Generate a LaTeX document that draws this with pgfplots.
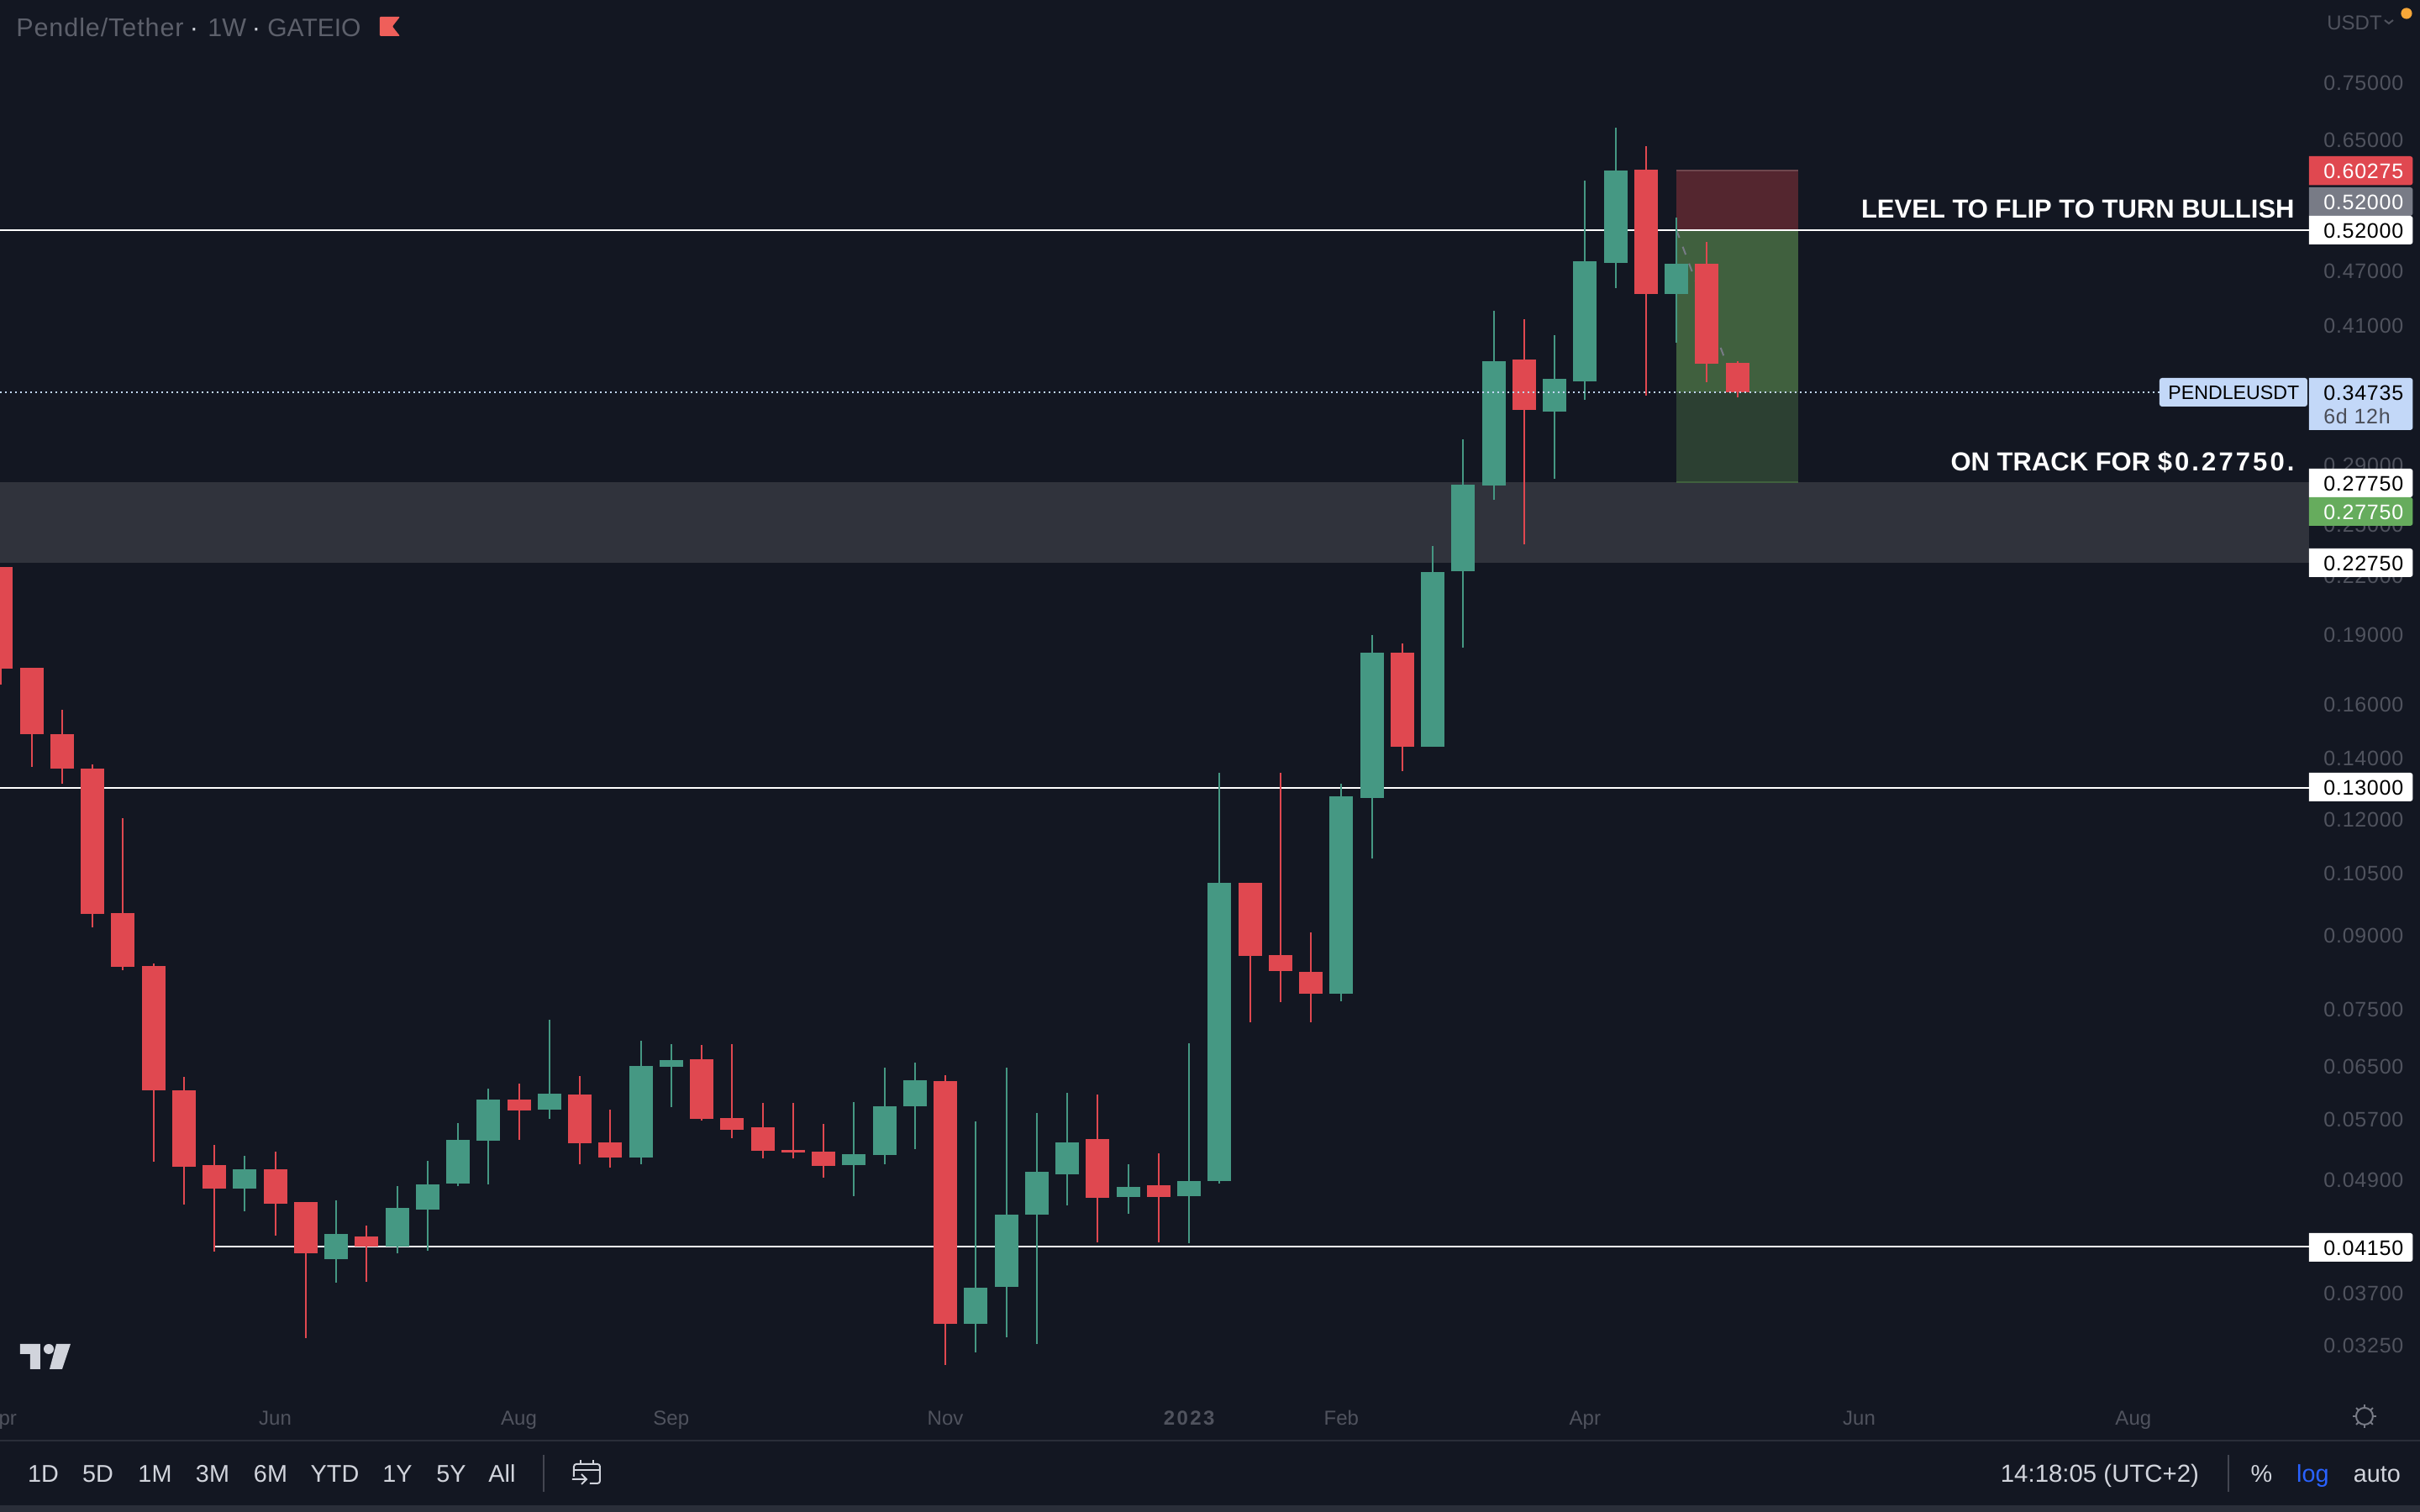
\documentclass[border=0pt]{standalone}
\usepackage{pgfplots}
\pgfplotsset{compat=1.18}
\usepackage{fontspec}
\setmainfont{Liberation Sans}
\newfontfamily\tickfont[LetterSpace=3]{Liberation Sans}
\newfontfamily\digfont[LetterSpace=10]{Liberation Sans}
\definecolor{bg}{HTML}{131722}
\definecolor{strip}{HTML}{2A2E39}
\definecolor{band}{HTML}{30333C}
\definecolor{dim}{HTML}{50535E}
\definecolor{dimtitle}{HTML}{5D606B}
\definecolor{icon}{HTML}{787B86}
\definecolor{sep}{HTML}{434651}
\definecolor{txt}{HTML}{D1D4DC}
\definecolor{up}{HTML}{459883}
\definecolor{dn}{HTML}{E04850}
\definecolor{flag}{HTML}{EF5F5A}
\definecolor{posred}{HTML}{54262F}
\definecolor{posgreen}{HTML}{40603E}
\definecolor{posdark}{HTML}{2C4032}
\definecolor{lastp}{HTML}{C3D8F8}
\definecolor{pgreen}{HTML}{66AC5D}
\definecolor{blue}{HTML}{2962FF}
\definecolor{sixd}{HTML}{4A4D57}
\definecolor{dash}{HTML}{787B86}
\definecolor{orangedot}{HTML}{F7A738}
\newcommand{\px}[1]{\fontsize{\fpeval{#1*0.50187}}{\fpeval{#1*0.6}}\selectfont}
% x open high low close
\newcommand{\G}[5]{\addplot[up,line width=1bp] coordinates {(#1,#4)(#1,#3)};\addplot[up,line width=14bp] coordinates {(#1,#2)(#1,#5)};}
\newcommand{\R}[5]{\addplot[dn,line width=1bp] coordinates {(#1,#4)(#1,#3)};\addplot[dn,line width=14bp] coordinates {(#1,#2)(#1,#5)};}
\begin{document}
\begin{tikzpicture}
\path[use as bounding box] (0,0) rectangle (1440bp,900bp);
\fill[bg] (0,0) rectangle (1440bp,900bp);
\begin{axis}[
  at={(0,70bp)}, anchor=south west, scale only axis,
  width=1374bp, height=830bp,
  xmin=-0.0359, xmax=75.772,
  ymode=log, ymin=0.02876, ymax=0.92095,
  axis line style={draw=none}, tick style={draw=none},
  major tick length=0pt, minor tick length=0pt,
  xtick={0,9,17,22,31,39,44,52,61,70},
  xticklabels={Apr,Jun,Aug,Sep,Nov,{\digfont\bfseries 2023},Feb,Apr,Jun,Aug},
  xticklabel style={font=\px{24}, text=dim, anchor=base, yshift=-18bp, inner sep=0pt},
  ytick={0.75,0.65,0.47,0.41,0.29,0.25,0.22,0.19,0.16,0.14,0.12,0.105,0.09,0.075,0.065,0.057,0.049,0.042,0.037,0.0325},
  yticklabels={0.75000,0.65000,0.47000,0.41000,0.29000,0.25000,0.22000,0.19000,0.16000,0.14000,0.12000,0.10500,0.09000,0.07500,0.06500,0.05700,0.04900,0.04200,0.03700,0.03250},
  yticklabel pos=right,
  yticklabel style={font=\tickfont\px{25}, text=dim, anchor=base west, xshift=8.5bp, yshift=-4.5bp, inner sep=0pt},
  axis on top=false,
]
% zone and position tool
\addplot[band,fill=band,draw=none] coordinates {(-0.0359,0.2775)(75.772,0.2775)(75.772,0.2275)(-0.0359,0.2275)};
\addplot[fill=posred,draw=none] coordinates {(55,0.60275)(59,0.60275)(59,0.52)(55,0.52)};
\addplot[fill=posgreen,draw=none] coordinates {(55,0.52)(59,0.52)(59,0.34735)(55,0.34735)};
\addplot[fill=posdark,draw=none] coordinates {(55,0.34735)(59,0.34735)(59,0.2775)(55,0.2775)};
\addplot[color=posred!85!white,line width=1bp] coordinates {(55,0.60275)(59,0.60275)};
\addplot[color=posgreen,line width=1bp] coordinates {(55,0.2775)(59,0.2775)};
% horizontal levels
\addplot[white,line width=1bp] coordinates {(-0.0359,0.52)(75.772,0.52)};
\addplot[white,line width=1bp] coordinates {(-0.0359,0.13)(75.772,0.13)};
\addplot[white,line width=1bp] coordinates {(7,0.0415)(75.772,0.0415)};
\addplot[color=dash,line width=1bp,dash pattern=on 5bp off 5.7bp] coordinates {(55,0.52)(57,0.34735)};
% candles: x open high low close
\R{0}{.2250}{.2250}{.1678}{.1748}
\R{1}{.1751}{.1751}{.1369}{.1486}
\R{2}{.1484}{.1578}{.1312}{.1363}
\R{3}{.1363}{.1377}{.0919}{.0949}
\R{4}{.0952}{.1205}{.0826}{.0833}
\R{5}{.0834}{.0839}{.0513}{.0612}
\R{6}{.0612}{.0633}{.0461}{.0506}
\R{7}{.05085}{.05346}{.0410}{.04795}
\G{8}{.04795}{.05205}{.04537}{.05034}
\R{9}{.05034}{.0526}{.04265}{.04624}
\R{10}{.04637}{.04637}{.03311}{.04082}
\G{11}{.04028}{.04657}{.03799}{.04283}
\R{12}{.04259}{.0438}{.03805}{.04155}
\G{13}{.04155}{.04832}{.04082}{.04569}
\G{14}{.04556}{.05137}{.04112}{.04846}
\G{15}{.04859}{.05642}{.04832}{.05416}
\G{16}{.05408}{.06152}{.04846}{.05983}
\R{17}{.05983}{.06225}{.05416}{.05827}
\G{18}{.05838}{.07303}{.05709}{.06072}
\R{19}{.06063}{.06344}{.051}{.0537}
\R{20}{.05384}{.05838}{.05054}{.05182}
\G{21}{.05182}{.06927}{.051}{.06503}
\G{22}{.06495}{.06866}{.05879}{.06601}
\R{23}{.0662}{.06856}{.05683}{.05709}
\R{24}{.05717}{.06866}{.0544}{.05552}
\R{25}{.05585}{.0594}{.05174}{.05267}
\R{26}{.05282}{.0594}{.05174}{.05251}
\R{27}{.05259}{.05633}{.04931}{.05077}
\G{28}{.05085}{.05949}{.04707}{.05225}
\G{29}{.05215}{.06481}{.05094}{.05887}
\G{30}{.05887}{.06559}{.05293}{.06278}
\R{31}{.06267}{.06361}{.03094}{.03428}
\G{32}{.03428}{.05672}{.03193}{.03749}
\G{33}{.03757}{.06481}{.03315}{.04497}
\G{34}{.04497}{.05789}{.0326}{.05001}
\G{35}{.04968}{.06088}{.04603}{.05383}
\R{36}{.05428}{.0606}{.04197}{.04689}
\G{37}{.04698}{.05094}{.04505}{.04819}
\R{38}{.04836}{.05235}{.04197}{.04698}
\G{39}{.04707}{.06885}{.04189}{.0489}
\G{40}{.0489}{.13487}{.04858}{.10262}
\R{41}{.10262}{.10262}{.07253}{.08556}
\R{42}{.08573}{.13481}{.0763}{.08243}
\R{43}{.0822}{.09072}{.07253}{.07789}
\G{44}{.07789}{.13125}{.07644}{.12728}
\G{45}{.12677}{.19001}{.10903}{.18185}
\R{46}{.18185}{.18591}{.13542}{.14386}
\G{47}{.14386}{.23701}{.14386}{.22225}
\G{48}{.22267}{.30884}{.18408}{.27612}
\G{49}{.27536}{.42517}{.26578}{.37527}
\R{50}{.37661}{.41656}{.23786}{.33242}
\G{51}{.33087}{.40019}{.28004}{.35917}
\G{52}{.35684}{.58746}{.34087}{.4808}
\G{53}{.47909}{.67069}{.45001}{.60252}
\R{54}{.60417}{.64016}{.34441}{.44339}
\G{55}{.44339}{.53618}{.39276}{.47818}
\R{56}{.47818}{.5047}{.35617}{.37284}
\R{57}{.37354}{.37556}{.34282}{.34735}
% last price
\addplot[color=lastp,line width=1bp,dash pattern=on 1bp off 2bp] coordinates {(-0.0359,0.34735)(70.86,0.34735)};
\end{axis}
% everything below in reference pixels (origin top left)
\begin{scope}[x=0.5bp,y=-0.5bp,yshift=900bp]
\newcommand{\pl}[4]{% ytop, ybottom, fill, x left fixed
  \fill[#3] (#4,#1) [rounded corners=1.5bp] -- (2871.5,#1) -- (2871.5,#2) [sharp corners] -- (#4,#2) -- cycle;}
\pl{186}{220.4}{dn}{2748}
\pl{223}{257}{icon}{2748}
\pl{257}{291}{white}{2748}
\pl{450}{512}{lastp}{2748}
\fill[lastp,rounded corners=1.5bp] (2570,450) rectangle (2746,484);
\pl{558}{592}{white}{2748}
\pl{592}{626}{pgreen}{2748}
\pl{653}{687}{white}{2748}
\pl{920}{954}{white}{2748}
\pl{1468}{1502}{white}{2748}
\newcommand{\pv}[3]{\node[anchor=base west,inner sep=0pt,text=#3,font=\tickfont\px{25}] at (2765,#1+9.5) {#2};}
\pv{203}{0.60275}{white}
\pv{240}{0.52000}{white}
\pv{274}{0.52000}{black}
\pv{467}{0.34735}{black}
\pv{495}{6d 12h}{sixd}
\pv{575}{0.27750}{black}
\pv{609}{0.27750}{white}
\pv{670}{0.22750}{black}
\pv{937}{0.13000}{black}
\pv{1485}{0.04150}{black}
\node[anchor=base west,inner sep=0pt,text=black,font=\px{23.2}] at (2580,476) {PENDLEUSDT};
% annotations
\node[anchor=base east,inner sep=0pt,text=white,font=\bfseries\px{31}] at (2731,260) {LEVEL TO FLIP TO TURN BULLISH};
\node[anchor=base east,inner sep=0pt,text=white,font=\bfseries\px{31}] at (2731,561) {ON TRACK FOR {\digfont\bfseries\$0.27750.}};
% header
\node[anchor=base west,inner sep=0pt,text=dimtitle,font=\tickfont\px{30.5}] at (19,44) {Pendle/Tether};
\node[anchor=base west,inner sep=0pt,text=dimtitle,font=\px{30.5}] at (247,44) {1W};
\node[anchor=base west,inner sep=0pt,text=dimtitle,font=\px{30}] at (318,44) {GATEIO};
\node[anchor=base,inner sep=0pt,text=txt,font=\px{30.5}] at (231,44) {·};
\node[anchor=base,inner sep=0pt,text=txt,font=\px{30.5}] at (305,44) {·};
\fill[flag,rounded corners=0.5bp] (452,20) -- (476,20) -- (467,31.5) -- (476,43) -- (452,43) -- cycle;
\node[anchor=base west,inner sep=0pt,text=dim,font=\px{24}] at (2769,36) {USDT};
\draw[dim,line width=1bp] (2838,24) -- (2843,28) -- (2848,24);
\fill[orangedot] (2864,16) circle[radius=3.3bp];
% time axis separator, bottom bar
\fill[strip] (0,1714) rectangle (2880,1716);
\fill[strip] (0,1792) rectangle (2880,1800);
\newcommand{\bt}[2]{\node[anchor=base,inner sep=0pt,text=txt,font=\px{28.8}] at (#1,1765) {#2};}
\bt{51.5}{1D}\bt{116.5}{5D}\bt{184.5}{1M}\bt{253}{3M}\bt{322}{6M}\bt{398.5}{YTD}\bt{473}{1Y}\bt{537}{5Y}\bt{597.5}{All}
\draw[sep,line width=1bp] (647,1732) -- (647,1776);
\node[anchor=base,inner sep=0pt,text=txt,font=\px{29.4}] at (2499,1765) {14:18:05 (UTC+2)};
\draw[sep,line width=1bp] (2652,1732) -- (2652,1776);
\bt{2691.5}{\%}
\node[anchor=base,inner sep=0pt,text=blue,font=\px{28.8}] at (2752.5,1765) {log};
\bt{2829}{auto}
% calendar icon
\draw[txt,line width=1bp,rounded corners=1.5bp] (683,1758) -- (683,1743) -- (714,1743) -- (714,1766) -- (702,1766);
\draw[txt,line width=1bp] (683,1750) -- (714,1750) (691,1738) -- (691,1743) (706,1738) -- (706,1743);
\draw[txt,line width=1bp] (681,1761) -- (698,1761) (692,1755) -- (698,1761) -- (692,1767);
% sun icon
\draw[icon,line width=1bp] (2814,1686) circle[radius=5bp];
\foreach \a in {45,135,225,315,90,270,0,180} {\draw[icon,line width=1bp] (2814,1686)+(\a:10) -- +(\a:14);}
% logo
\fill[txt] (24,1600) -- (48,1600) -- (48,1630) -- (36,1630) -- (36,1612) -- (24,1612) -- cycle;
\fill[txt] (58,1606) circle[radius=3bp];
\fill[txt] (67,1600) -- (84,1600) -- (74,1630) -- (59,1630) -- cycle;
\end{scope}
\end{tikzpicture}
\end{document}
